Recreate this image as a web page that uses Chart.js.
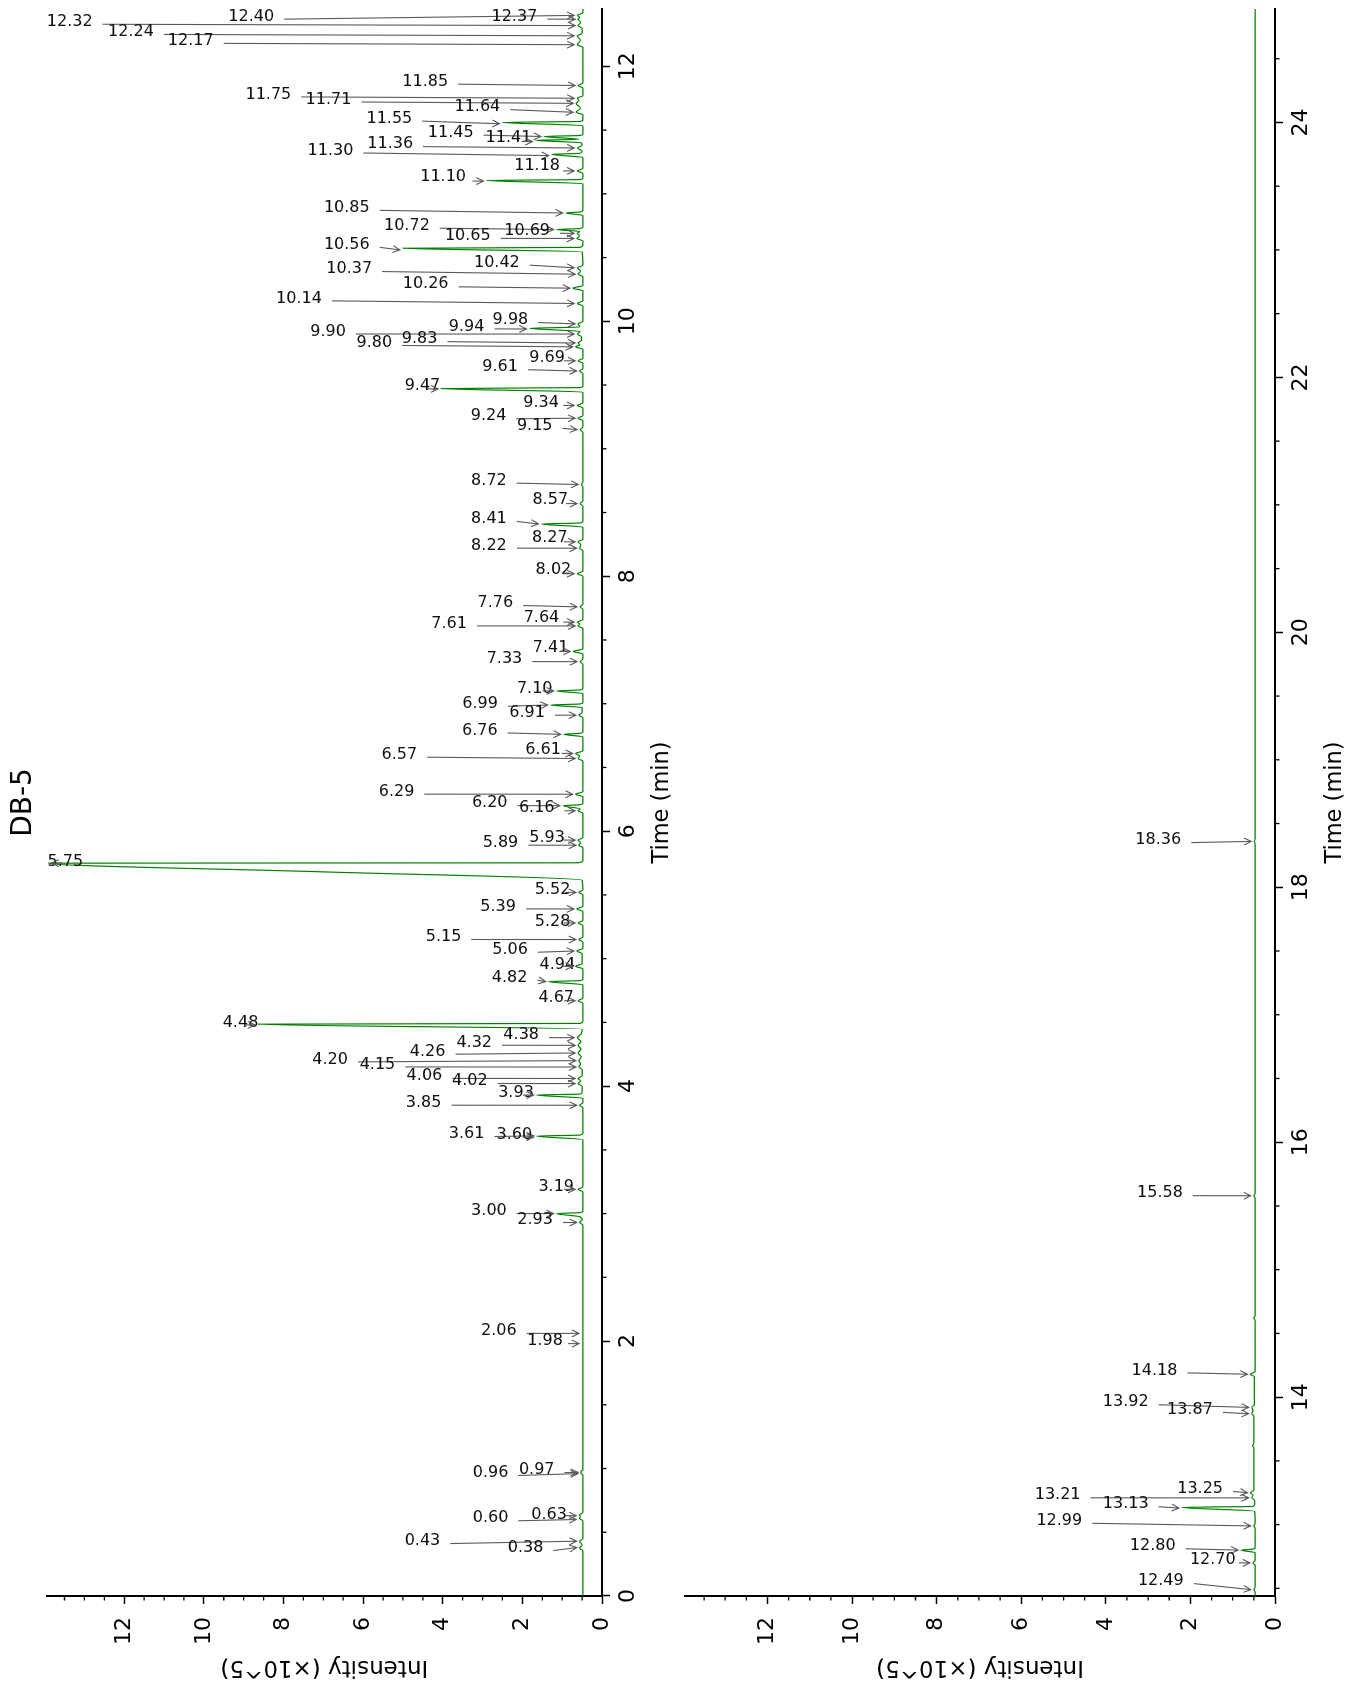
<!DOCTYPE html>
<html>
<head>
<meta charset="utf-8">
<title>DB-5</title>
<script src="https://cdn.jsdelivr.net/npm/chart.js@4.4.1/dist/chart.umd.min.js"></script>
<style>
  html, body { margin: 0; padding: 0; background: #fff; overflow: hidden; }
  #page { position: relative; width: 1361px; height: 1684px; overflow: hidden; background: #fff; }
  /* the figure is drawn landscape, then turned a quarter turn to the left */
  #fig { position: absolute; left: 0; top: 0; width: 1684px; height: 1361px;
         transform-origin: 0 0; transform: translate(0, 1684px) rotate(-90deg); }
  #fig canvas { position: absolute; left: 0; }
  #panelA { top: 0; }
  #panelB { top: 680px; }
</style>
</head>
<body>
<div id="page"><div id="fig">
  <canvas id="panelA" width="1684" height="680"></canvas>
  <canvas id="panelB" width="1684" height="681"></canvas>
</div></div>
<script>
// chromatogram trace, [time (min), intensity (x10^5)]
const traceA = [
  [0, .48],
  [0.355, .48], [0.376, .56], [0.40, .5], [0.43, .56], [0.45, .48],
  [0.59, .48], [0.61, .57], [0.622, .54], [0.635, .57], [0.655, .48],
  [0.95, .48], [0.965, .53], [0.975, .53], [0.99, .48],
  [2.91, .48], [2.93, .56], [2.95, .5], [2.975, .55], [3.0, 1.14], [3.008, .55], [3.02, .48],
  [3.17, .48], [3.19, .6], [3.21, .48],
  [3.58, .48], [3.608, 1.64], [3.616, .55], [3.63, .48],
  [3.83, .48], [3.85, .56], [3.87, .48],
  [3.905, .48], [3.93, 1.64], [3.938, .55], [3.95, .5],
  [4.0, .5], [4.02, .6], [4.04, .54], [4.06, .6], [4.08, .5],
  [4.13, .5], [4.15, .58], [4.175, .54], [4.20, .58], [4.23, .52], [4.26, .6], [4.29, .53],
  [4.32, .6], [4.35, .53], [4.38, .62], [4.41, .52],
  [4.447, .5], [4.486, 8.64], [4.492, .55], [4.51, .48],
  [4.65, .48], [4.67, .6], [4.69, .48],
  [4.795, .48], [4.82, 1.34], [4.828, .55], [4.84, .48],
  [4.92, .48], [4.94, .66], [4.96, .5],
  [5.04, .5], [5.06, .63], [5.08, .48],
  [5.13, .48], [5.15, .58], [5.17, .48],
  [5.26, .48], [5.28, .6], [5.30, .48],
  [5.37, .48], [5.39, .63], [5.41, .48],
  [5.50, .48], [5.52, .58], [5.54, .48],
  [5.616, .5], [5.68, 6.9], [5.749, 13.9], [5.752, .6], [5.77, .48],
  [5.87, .48], [5.89, .58], [5.91, .54], [5.93, .6], [5.95, .48],
  [6.14, .48], [6.16, .6], [6.175, .55], [6.20, .98], [6.208, .55], [6.22, .48],
  [6.27, .48], [6.29, .66], [6.31, .48],
  [6.55, .48], [6.57, .6], [6.59, .56], [6.61, .66], [6.63, .48],
  [6.74, .48], [6.76, .96], [6.768, .55], [6.78, .48],
  [6.89, .48], [6.91, .58], [6.93, .5], [6.97, .5], [6.99, 1.29], [6.998, .55], [7.01, .48],
  [7.08, .48], [7.10, 1.14], [7.108, .55], [7.12, .48],
  [7.31, .48], [7.33, .55], [7.35, .48],
  [7.39, .48], [7.41, .72], [7.43, .48],
  [7.59, .48], [7.61, .6], [7.625, .56], [7.64, .62], [7.66, .48],
  [7.74, .48], [7.76, .55], [7.78, .48],
  [8.0, .48], [8.02, .62], [8.04, .48],
  [8.20, .48], [8.22, .56], [8.245, .53], [8.27, .6], [8.29, .48],
  [8.385, .48], [8.41, 1.52], [8.418, .55], [8.43, .48],
  [8.55, .48], [8.57, .55], [8.59, .48],
  [8.70, .48], [8.72, .52], [8.74, .48],
  [9.13, .48], [9.15, .55], [9.17, .48],
  [9.22, .48], [9.24, .6], [9.26, .48],
  [9.32, .48], [9.34, .62], [9.36, .48],
  [9.445, .48], [9.472, 4.04], [9.48, .55], [9.49, .48],
  [9.59, .48], [9.61, .56], [9.63, .48],
  [9.67, .48], [9.69, .6], [9.71, .48],
  [9.78, .48], [9.80, .66], [9.815, .56], [9.83, .6], [9.85, .52], [9.88, .52], [9.90, .62],
  [9.92, .55], [9.945, 1.82], [9.955, .56], [9.98, .6], [10.0, .48],
  [10.12, .48], [10.14, .62], [10.16, .48],
  [10.24, .48], [10.26, .73], [10.28, .48],
  [10.35, .48], [10.37, .6], [10.395, .54], [10.42, .62], [10.44, .48],
  [10.545, .5], [10.573, 5.0], [10.58, .55], [10.60, .48],
  [10.63, .48], [10.65, .63], [10.67, .56], [10.69, .62], [10.705, .56], [10.72, 1.14], [10.728, .55], [10.74, .48],
  [10.83, .48], [10.85, .91], [10.858, .55], [10.87, .48],
  [11.08, .48], [11.105, 2.9], [11.112, .55], [11.125, .48],
  [11.16, .48], [11.18, .62], [11.20, .48],
  [11.285, .48], [11.31, 1.26], [11.318, .55], [11.335, .5], [11.36, .62], [11.38, .5],
  [11.40, .52], [11.42, 1.67], [11.428, .58], [11.45, 1.46], [11.458, .55], [11.47, .48],
  [11.535, .48], [11.56, 2.5], [11.568, .55], [11.58, .48],
  [11.62, .48], [11.64, .65], [11.67, .54], [11.71, .65], [11.73, .58], [11.75, .62], [11.77, .48],
  [11.83, .48], [11.85, .6], [11.87, .48],
  [12.15, .48], [12.17, .62], [12.205, .54], [12.24, .62], [12.26, .5], [12.30, .5], [12.32, .6],
  [12.345, .54], [12.37, .6], [12.385, .56], [12.40, .62], [12.42, .48],
  [12.45, .48]
];
const traceB = [
  [12.44, .47], [12.47, .47], [12.49, .5], [12.51, .47],
  [12.68, .47], [12.70, .52], [12.72, .47],
  [12.78, .47], [12.80, .8], [12.808, .52], [12.82, .47],
  [12.97, .47], [12.99, .5], [13.01, .47],
  [13.105, .48], [13.135, 2.2], [13.143, .52], [13.16, .48],
  [13.19, .48], [13.21, .55], [13.23, .52], [13.25, .58], [13.27, .5],
  [13.60, .5], [13.62, .53], [13.64, .5],
  [13.85, .5], [13.87, .55], [13.895, .52], [13.92, .55], [13.94, .49],
  [14.16, .49], [14.18, .58], [14.20, .47],
  [14.60, .47], [14.62, .5], [14.64, .47],
  [15.56, .47], [15.58, .5], [15.60, .47],
  [18.34, .47], [18.36, .49], [18.38, .47],
  [24.89, .47]
];

// labelled peaks: retention time, apex height, where the label text sits
const peaksA = ['12.40', '12.37', '12.32', '12.24', '12.17', '11.85', '11.75', '11.71', '11.64', '11.55',
  '11.45', '11.41', '11.36', '11.30', '11.18', '11.10', '10.85', '10.72', '10.69', '10.65',
  '10.56', '10.42', '10.37', '10.26', '10.14', '9.98', '9.94', '9.90', '9.83', '9.80',
  '9.69', '9.61', '9.47', '9.34', '9.24', '9.15', '8.72', '8.57', '8.41', '8.27',
  '8.22', '8.02', '7.76', '7.64', '7.61', '7.41', '7.33', '7.10', '6.99', '6.91',
  '6.76', '6.61', '6.57', '6.29', '6.20', '6.16', '5.93', '5.89', '5.75', '5.52',
  '5.39', '5.28', '5.15', '5.06', '4.94', '4.82', '4.67', '4.48', '4.38', '4.32',
  '4.26', '4.20', '4.15', '4.06', '4.02', '3.93', '3.85', '3.61', '3.60', '3.19',
  '3.00', '2.93', '2.06', '1.98', '0.97', '0.96', '0.63', '0.60', '0.43', '0.38'];
const apexA = [.62, .6, .6, .62, .62, .6, .62, .65, .65, 2.5,
  1.46, 1.67, .62, 1.26, .62, 2.9, .91, 1.14, .62, .63,
  5.0, .62, .6, .73, .62, .6, 1.82, .62, .6, .66,
  .6, .56, 4.04, .62, .6, .55, .52, .55, 1.52, .6,
  .56, .62, .55, .62, .6, .72, .55, 1.14, 1.29, .58,
  .96, .66, .6, .66, .98, .6, .6, .58, 13.9, .58,
  .63, .6, .58, .63, .66, 1.34, .6, 8.64, .62, .6,
  .6, .58, .58, .6, .6, 1.64, .56, 1.64, 1.64, .6,
  1.14, .56, .5, .5, .53, .53, .57, .57, .56, .56];
const textTimeA = [12.39, 12.39, 12.35, 12.27, 12.20, 11.88, 11.78, 11.74, 11.68, 11.59,
  11.48, 11.44, 11.39, 11.34, 11.22, 11.13, 10.89, 10.75, 10.71, 10.67,
  10.60, 10.46, 10.41, 10.29, 10.18, 10.01, 9.96, 9.92, 9.86, 9.83,
  9.71, 9.64, 9.49, 9.36, 9.255, 9.18, 8.75, 8.60, 8.45, 8.30,
  8.24, 8.05, 7.79, 7.67, 7.63, 7.44, 7.35, 7.12, 7.00, 6.93,
  6.79, 6.64, 6.60, 6.31, 6.22, 6.18, 5.95, 5.91, 5.76, 5.54,
  5.41, 5.29, 5.17, 5.07, 4.95, 4.85, 4.69, 4.50, 4.40, 4.34,
  4.27, 4.21, 4.17, 4.08, 4.04, 3.95, 3.87, 3.624, 3.616, 3.21,
  3.02, 2.95, 2.08, 2.00, 0.988, 0.965, 0.635, 0.61, 0.431, 0.376];
const textLevelA = [8.81, 2.20, 13.37, 11.83, 10.33, 4.44, 8.38, 6.87, 3.13, 5.34,
  3.80, 2.35, 5.32, 6.82, 1.63, 3.99, 6.41, 4.90, 1.88, 3.37,
  6.41, 2.64, 6.35, 4.43, 7.61, 2.30, 3.40, 6.88, 4.58, 5.72,
  1.38, 2.56, 4.51, 1.53, 2.85, 1.69, 2.84, 1.30, 2.84, 1.31,
  2.84, 1.22, 2.68, 1.52, 3.84, 1.29, 2.45, 1.69, 3.06, 1.88,
  3.07, 1.48, 5.09, 5.16, 2.82, 1.64, 1.38, 2.55, 13.48, 1.24,
  2.61, 1.24, 3.98, 2.31, 1.12, 2.32, 1.15, 9.08, 2.03, 3.21,
  4.38, 6.83, 5.64, 4.46, 3.32, 2.16, 4.48, 3.40, 2.20, 1.15,
  2.84, 1.68, 2.59, 1.43, 1.64, 2.80, 1.33, 2.80, 4.51, 1.92];

const peaksB = ['18.36', '15.58', '14.18', '13.92', '13.87', '13.25', '13.21', '13.13', '12.99', '12.80', '12.70', '12.49'];
const apexB = [.49, .5, .58, .55, .55, .58, .55, 2.2, .5, .8, .52, .5];
const textTimeB = [18.37, 15.60, 14.21, 13.96, 13.90, 13.28, 13.23, 13.16, 13.03, 12.83, 12.72, 12.557];
const textLevelB = [2.76, 2.72, 2.85, 3.53, 2.01, 1.77, 5.14, 3.53, 5.10, 2.89, 1.47, 2.70];

const intensityTicks = [0, 2, 4, 6, 8, 10, 12];
const timeTicksA = [0, 2, 4, 6, 8, 10, 12];
const timeTicksB = [14, 16, 18, 20, 22, 24];

const FONT = "'DejaVu Sans', 'Liberation Sans', sans-serif";
Chart.defaults.font.family = FONT;
Chart.defaults.color = '#000';

function drawArrow(ctx, sx, sy, ex, ey) {
    const a = Math.atan2(ey - sy, ex - sx), L = 8, s = 0.45;
    ctx.beginPath();
    ctx.moveTo(sx, sy);
    ctx.lineTo(ex, ey);
    ctx.moveTo(ex - L * Math.cos(a - s), ey - L * Math.sin(a - s));
    ctx.lineTo(ex, ey);
    ctx.lineTo(ex - L * Math.cos(a + s), ey - L * Math.sin(a + s));
    ctx.stroke();
}

// peak annotations: text turned so it reads level once the figure is rotated
const peakLabels = {
    id: 'peakLabels',
    afterDatasetsDraw(chart, args, o) {
        const ctx = chart.ctx, xs = chart.scales.x, ys = chart.scales.y;
        ctx.save();
        ctx.font = '16px ' + FONT;
        o.names.forEach((name, i) => {
            const px = xs.getPixelForValue(o.textTime[i]);
            const py = ys.getPixelForValue(o.textLevel[i]);
            const w = ctx.measureText(name).width;

            ctx.save();
            ctx.translate(px, py);
            ctx.rotate(Math.PI / 2);
            ctx.fillStyle = '#111';
            ctx.textAlign = 'center';
            ctx.textBaseline = 'middle';
            ctx.fillText(name, 0, 0);
            ctx.restore();

            const tx = xs.getPixelForValue(parseFloat(name));
            const ty = ys.getPixelForValue(o.apex[i]);
            const dir = ty >= py ? 1 : -1;
            const ex = tx, ey = ty - dir * 3;
            let sx = px - 2.5, sy = py + dir * (w / 2 + 10);
            if ((ey - sy) * dir < 8) { // label sits on the peak: short arrow only
                sx = ex;
                sy = ey - dir * 11;
            }
            ctx.strokeStyle = '#5a5a5a';
            ctx.lineWidth = 1.1;
            drawArrow(ctx, sx, sy, ex, ey);
        });
        ctx.restore();
    }
};

// half-step minor ticks on both axes
const minorTicks = {
    id: 'minorTicks',
    afterDraw(chart) {
        const ctx = chart.ctx, xs = chart.scales.x, ys = chart.scales.y, area = chart.chartArea;
        ctx.save();
        ctx.strokeStyle = '#000';
        ctx.lineWidth = 1.3;
        ctx.beginPath();
        for (let k = Math.ceil(xs.min * 2); k <= xs.max * 2; k++) {
            if (k % 4 === 0) continue;
            const x = xs.getPixelForValue(k / 2);
            ctx.moveTo(x, area.bottom);
            ctx.lineTo(x, area.bottom + 4.5);
        }
        for (let k = 1; k <= ys.max * 2; k++) {
            if (k % 4 === 0) continue;
            const y = ys.getPixelForValue(k / 2);
            ctx.moveTo(area.left, y);
            ctx.lineTo(area.left - 4.5, y);
        }
        ctx.stroke();
        ctx.restore();
    }
};

function makePanel(id, p) {
    return new Chart(document.getElementById(id), {
        type: 'line',
        data: {
            datasets: [{
                data: p.trace.map(d => ({ x: d[0], y: d[1] })),
                borderColor: '#008000',
                borderWidth: 1.2,
                pointRadius: 0,
                cubicInterpolationMode: 'monotone',
                fill: false
            }]
        },
        options: {
            responsive: false,
            animation: false,
            events: [],
            layout: { padding: { left: 0, right: 9, top: p.top, bottom: 0 } },
            scales: {
                x: {
                    type: 'linear',
                    min: p.tMin,
                    max: p.tMax,
                    afterBuildTicks: s => { s.ticks = p.timeTicks.map(v => ({ value: v })); },
                    afterFit: s => { s.height = p.xHeight; s.paddingLeft = 0; s.paddingRight = 0; },
                    border: { display: true, color: '#000', width: 2 },
                    grid: { drawOnChartArea: false, drawTicks: true, tickLength: 8, tickColor: '#000', tickWidth: 1.5 },
                    ticks: { font: { size: 22 }, color: '#000', padding: 5, maxRotation: 0, autoSkip: false },
                    title: { display: true, text: 'Time (min)', color: '#000', font: { size: 22.5 }, padding: { top: 0, bottom: p.xTitlePad } }
                },
                y: {
                    type: 'linear',
                    min: 0,
                    max: 13.95,
                    afterBuildTicks: s => { s.ticks = intensityTicks.map(v => ({ value: v })); },
                    afterFit: s => { s.width = 88; s.paddingTop = 0; s.paddingBottom = 0; },
                    border: { display: true, color: '#000', width: 2 },
                    grid: { drawOnChartArea: false, drawTicks: true, tickLength: 8, tickColor: '#000', tickWidth: 1.5 },
                    ticks: { font: { size: 22 }, color: '#000', padding: 13, autoSkip: false },
                    title: { display: true, text: 'Intensity (×10^5)', color: '#000', font: { size: 23 }, padding: { top: 3, bottom: 0 } }
                }
            },
            plugins: {
                legend: { display: false },
                tooltip: { enabled: false },
                title: p.title
                    ? { display: true, fullSize: false, text: p.title, color: '#000', font: { size: 28, weight: 'normal' }, padding: { top: 7, bottom: 6 } }
                    : { display: false },
                peakLabels: { names: p.names, apex: p.apex, textTime: p.textTime, textLevel: p.textLevel }
            }
        },
        plugins: [peakLabels, minorTicks]
    });
}

makePanel('panelA', {
    trace: traceA, names: peaksA, apex: apexA, textTime: textTimeA, textLevel: textLevelA,
    tMin: 0, tMax: 12.45, timeTicks: timeTicksA, title: 'DB-5', top: 0, xHeight: 78, xTitlePad: 4.5
});
makePanel('panelB', {
    trace: traceB, names: peaksB, apex: apexB, textTime: textTimeB, textLevel: textLevelB,
    tMin: 12.44, tMax: 24.89, timeTicks: timeTicksB, title: null, top: 5, xHeight: 86, xTitlePad: 12.5
});
</script>
</body>
</html>
